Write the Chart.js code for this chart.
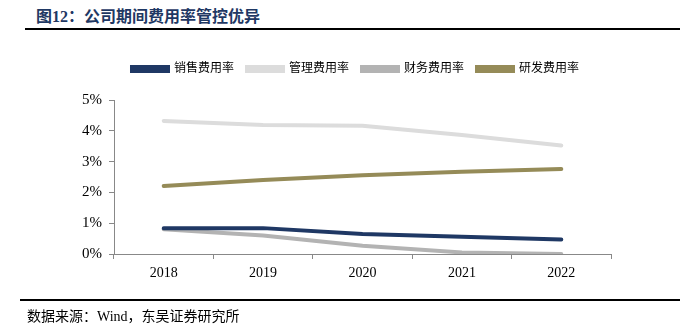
<!DOCTYPE html>
<html>
<head>
<meta charset="utf-8">
<script src="https://cdn.jsdelivr.net/npm/chart.js@4/dist/chart.umd.min.js"></script>
<style>
  body { margin: 0; background: #fff; width: 680px; height: 333px; position: relative; overflow: hidden; }
  #title { position: absolute; left: 36px; top: 3px; font: bold 16px "Liberation Serif", "Noto Sans CJK SC", serif; color: #1f3864; }
  #topline { position: absolute; left: 25px; right: 0; top: 28px; border-top: 2px solid #000; }
  #bottomline { position: absolute; left: 20px; right: 0; top: 299px; border-top: 2px solid #000; }
  #source { position: absolute; left: 27px; top: 305px; font: 14px "Liberation Serif", "Noto Sans CJK SC", serif; color: #000; }
  #wrap { position: absolute; left: 0; top: 0; width: 680px; height: 333px; }
</style>
</head>
<body>
<div id="title">图12：公司期间费用率管控优异</div>
<div id="topline"></div>
<div id="wrap"><canvas id="chart"></canvas></div>
<div id="bottomline"></div>
<div id="source">数据来源：Wind，东吴证券研究所</div>
<script>
// 年份与各费用率（%）
const years = ['2018', '2019', '2020', '2021', '2022'];
const sellingRate = [0.84, 0.84, 0.65, 0.56, 0.47];
const adminRate = [4.32, 4.19, 4.16, 3.86, 3.52];
const financeRate = [0.80, 0.60, 0.27, 0.05, 0.00];
const rdRate = [2.21, 2.40, 2.56, 2.67, 2.76];
const yTicks = [0, 1, 2, 3, 4, 5];

const serif = '"Liberation Serif", "Noto Sans CJK SC", serif';

function line(label, data, color) {
    return {
        label: label,
        data: data,
        borderColor: color,
        backgroundColor: color,
        borderWidth: 4,
        pointRadius: 0,
        tension: 0,
        borderCapStyle: 'round'
    };
}

// 图例下方留白，并整体右移
const legendGap = {
    id: 'legendGap',
    beforeInit(chart) {
        const fit = chart.legend.fit;
        chart.legend.fit = function () {
            fit.bind(chart.legend)();
            this.height += 15;
        };
    },
    afterLayout(chart) {
        chart.legend.left += 50;
        chart.legend.right += 50;
    }
};

new Chart(document.getElementById('chart'), {
    type: 'line',
    data: {
        labels: years,
        datasets: [
            line('销售费用率', sellingRate, '#1f3864'),
            line('管理费用率', adminRate, '#dcdcdc'),
            line('财务费用率', financeRate, '#b3b3b3'),
            line('研发费用率', rdRate, '#958b58')
        ]
    },
    plugins: [legendGap],
    options: {
        responsive: true,
        maintainAspectRatio: false,
        animation: false,
        layout: { padding: { top: 50, right: 69, bottom: 0, left: 0 } },
        plugins: {
            legend: {
                display: true,
                labels: {
                    boxWidth: 36,
                    boxHeight: 4,
                    padding: 13,
                    color: '#000',
                    font: { family: serif, size: 12 }
                }
            },
            tooltip: { enabled: false }
        },
        scales: {
            x: {
                offset: true,
                grid: { display: true, offset: true, drawOnChartArea: false, drawTicks: true, tickLength: 5, color: '#888' },
                border: { display: true, color: '#888', width: 1 },
                ticks: { color: '#000', font: { family: serif, size: 14 }, padding: 6 },
                afterFit: s => { s.height = 79; }
            },
            y: {
                min: 0,
                max: 5,
                afterBuildTicks: s => { s.ticks = yTicks.map(v => ({ value: v })); },
                grid: { display: true, drawOnChartArea: false, drawTicks: true, tickLength: 5, color: '#888' },
                border: { display: true, color: '#888', width: 1 },
                ticks: { color: '#000', font: { family: serif, size: 15 }, padding: 7, callback: v => v + '%' },
                afterFit: s => { s.width = 114; }
            }
        }
    }
});
</script>
</body>
</html>
